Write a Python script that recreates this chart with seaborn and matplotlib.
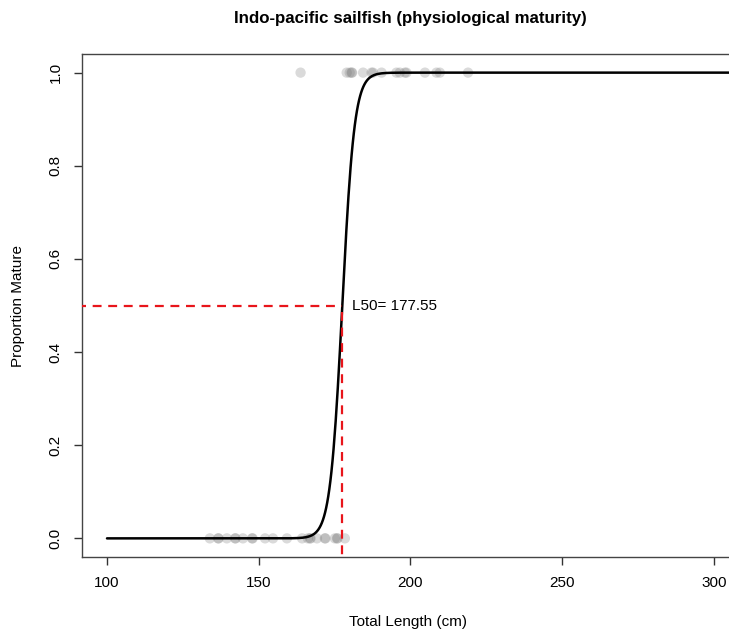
import numpy as np
import pandas as pd
import matplotlib
matplotlib.use("Agg")
import matplotlib.pyplot as plt
import seaborn as sns

# Observed lengths (cm) by maturity state
immature_len = [133.9, 136.6, 136.8, 139.5, 142.2, 142.4, 144.8, 147.8, 148.0, 152.1,
                154.7, 159.3, 164.3, 166.2, 166.9, 167.1, 169.2, 171.8, 172.0, 175.1,
                175.8, 176.0, 178.4]
mature_len = [163.8, 179.0, 180.0, 180.6, 180.8, 184.4, 187.2, 187.7, 190.5, 195.4,
              196.5, 198.2, 198.7, 204.8, 208.6, 209.7, 219.0]

# Logistic fit parameters
L50 = 177.55
slope = 0.5
curve_range = [100, 310]

title = "Indo-pacific sailfish (physiological maturity)"
xlabel = "Total Length (cm)"
ylabel = "Proportion Mature"
xticks = [100, 150, 200, 250, 300]
yticks = [0.0, 0.2, 0.4, 0.6, 0.8, 1.0]

sns.set_style("white")
plt.rcParams['font.family'] = ['Liberation Sans', 'DejaVu Sans']
plt.rcParams['text.color'] = 'black'
plt.rcParams['xtick.color'] = 'black'
plt.rcParams['ytick.color'] = 'black'

pts = pd.DataFrame({
    "length": immature_len + mature_len,
    "mature": [0] * len(immature_len) + [1] * len(mature_len),
})
xs = np.linspace(curve_range[0], curve_range[1], 600)
curve = pd.DataFrame({"length": xs, "p": 1.0 / (1.0 + np.exp(-slope * (xs - L50)))})

fig = plt.figure(figsize=(7.29, 6.39), dpi=100)
ax = fig.add_axes([82 / 729, 1 - 557 / 639, (757 - 82) / 729, (557 - 54) / 639])

sns.scatterplot(data=pts, x="length", y="mature", ax=ax, color="#7a7a7a", alpha=0.28,
                s=55, edgecolor="none", legend=False, zorder=2)
sns.lineplot(data=curve, x="length", y="p", ax=ax, color="black", linewidth=1.8, zorder=3)

ax.plot([80, L50], [0.5, 0.5], color="#e8151b", linestyle=(0, (4, 3)), linewidth=1.6, zorder=4)
ax.plot([L50, L50], [-0.2, 0.5], color="#e8151b", linestyle=(0, (4, 3)), linewidth=1.6, zorder=4)
ax.text(L50 + 3.2, 0.5, f"L50= {L50:.2f}", ha="left", va="center", fontsize=11, color="black")

ax.set_xlim(91.76, 314.24)
ax.set_ylim(-0.04, 1.04)
ax.set_xticks(xticks)
ax.set_xticklabels([str(t) for t in xticks], fontsize=11)
ax.set_yticks(yticks)
ax.set_yticklabels([f"{t:.1f}" for t in yticks], fontsize=11, rotation=90, va="center")
ax.tick_params(axis="both", direction="out", length=6, width=1, color="#333333", pad=8,
               labelcolor="black", bottom=True, left=True)
for s in ax.spines.values():
    s.set_color("#444444")
    s.set_linewidth(1.0)
ax.set_xlabel("")
ax.set_ylabel("")

fig.text(408 / 729, 1 - 622 / 639, xlabel, ha="center", va="center", fontsize=11, color="black")
fig.text(18 / 729, 1 - 306 / 639, ylabel, ha="center", va="center", fontsize=11, rotation=90, color="black")
fig.text(410 / 729, 1 - 18 / 639, title, ha="center", va="center", fontsize=12.2,
         fontweight="bold", color="black")

fig.savefig("out.png", dpi=100)
